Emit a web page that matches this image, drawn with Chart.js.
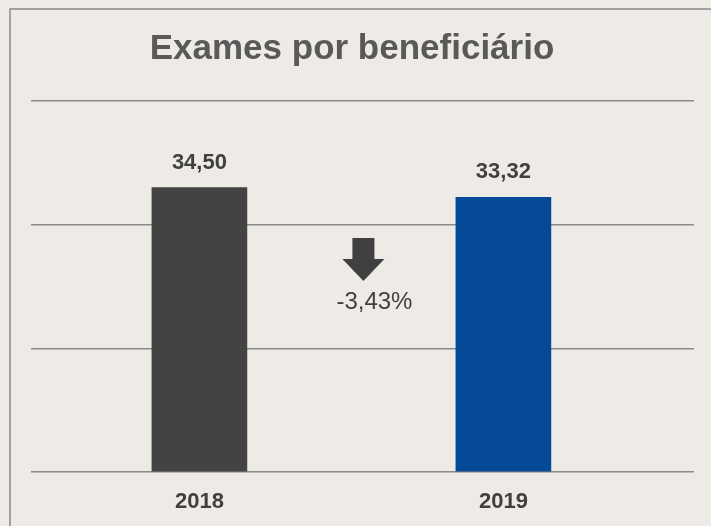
<!DOCTYPE html>
<html lang="pt">
<head>
    <meta charset="UTF-8">
    <title>Exames por beneficiário</title>
    <script src="https://cdn.jsdelivr.net/npm/chart.js"></script>
    <style>
        html, body {
            margin: 0;
            padding: 0;
            background: #eeebe6;
        }
        .chart-container {
            position: relative;
            width: 711px;
            height: 526px;
        }
    </style>
</head>
<body>
<div class="chart-container">
    <canvas id="examesChart"></canvas>
</div>

<script>
    const titleText = 'Exames por beneficiário';
    const years = ['2018', '2019'];
    const exames = [34.50, 33.32];
    const barColors = ['#434343', '#044a97'];
    const changeText = '-3,43%';

    const fmt = v => v.toFixed(2).replace('.', ',');
    const FONT = '"Liberation Sans", Arial, sans-serif';

    // frame, title, value labels and the arrow in the middle
    const decorations = {
        id: 'decorations',
        beforeDraw(chart) {
            const ctx = chart.ctx;
            ctx.save();
            ctx.fillStyle = '#eeebe6';
            ctx.fillRect(0, 0, chart.width, chart.height);
            ctx.strokeStyle = '#8a8a8a';
            ctx.lineWidth = 1.5;
            ctx.beginPath();
            ctx.moveTo(chart.width, 9);
            ctx.lineTo(10, 9);
            ctx.lineTo(10, chart.height);
            ctx.stroke();
            ctx.restore();
        },
        afterDatasetsDraw(chart) {
            const ctx = chart.ctx;
            const area = chart.chartArea;
            ctx.save();

            ctx.fillStyle = '#595959';
            ctx.font = 'bold 35px ' + FONT;
            ctx.textAlign = 'center';
            ctx.textBaseline = 'middle';
            ctx.fillText(titleText, 352, 49);

            ctx.fillStyle = '#404040';
            ctx.font = 'bold 22px ' + FONT;
            const bars = chart.getDatasetMeta(0).data;
            bars.forEach((bar, i) => {
                ctx.fillText(fmt(exames[i]), bar.x, bar.y - 25);
            });

            // arrow between the bars
            const cx = (bars[0].x + bars[1].x) / 2 + 12;
            const top = area.top + 137;
            ctx.beginPath();
            ctx.moveTo(cx - 11, top);
            ctx.lineTo(cx + 11, top);
            ctx.lineTo(cx + 11, top + 21);
            ctx.lineTo(cx + 21, top + 21);
            ctx.lineTo(cx, top + 43);
            ctx.lineTo(cx - 21, top + 21);
            ctx.lineTo(cx - 11, top + 21);
            ctx.closePath();
            ctx.fill();

            ctx.font = '24px ' + FONT;
            ctx.fillText(changeText, cx + 11, top + 64);
            ctx.restore();
        }
    };

    new Chart(document.getElementById('examesChart'), {
        type: 'bar',
        data: {
            datasets: [{
                data: years.map((y, i) => ({ x: i, y: exames[i] })),
                backgroundColor: barColors,
                barThickness: 95
            }]
        },
        options: {
            responsive: true,
            maintainAspectRatio: false,
            animation: false,
            layout: {
                padding: { top: 101, left: 31, right: 17, bottom: 0 }
            },
            plugins: {
                legend: { display: false },
                tooltip: { enabled: false }
            },
            scales: {
                x: {
                    type: 'linear',
                    offset: false,
                    min: -0.554,
                    max: 1.627,
                    grid: { display: false },
                    border: { display: false },
                    afterBuildTicks: axis => {
                        axis.ticks = years.map((y, i) => ({ value: i }));
                    },
                    afterFit: axis => {
                        axis.height = 54;
                    },
                    ticks: {
                        padding: 9,
                        maxRotation: 0,
                        color: '#404040',
                        font: { size: 22, weight: 'bold', family: FONT },
                        callback: v => years[v]
                    }
                },
                y: {
                    min: 0,
                    max: 45,
                    ticks: { display: false, stepSize: 15 },
                    border: { display: false },
                    grid: { color: '#8a8a8a', lineWidth: 1.5, drawTicks: false }
                }
            }
        },
        plugins: [decorations]
    });
</script>
</body>
</html>
